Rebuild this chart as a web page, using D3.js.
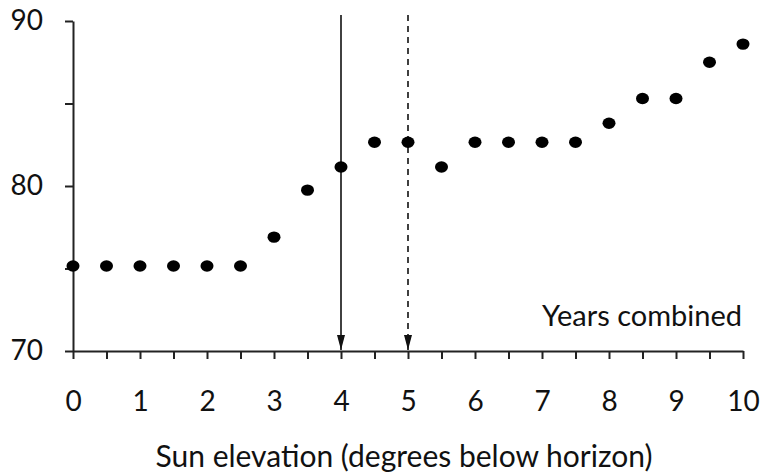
<!DOCTYPE html>
<html>
<head>
<meta charset="utf-8">
<script src="https://cdn.jsdelivr.net/npm/d3@7"></script>
<style>
  body { margin: 0; background: #fff; }
  text { font-family: Lato, "Open Sans", sans-serif; fill: #111; }
</style>
</head>
<body>
<div id="chart"></div>
<script>
// data
var elevation = [0, 0.5, 1, 1.5, 2, 2.5, 3, 3.5, 4, 4.5, 5, 5.5, 6, 6.5, 7, 7.5, 8, 8.5, 9, 9.5, 10];
var percent   = [75.15, 75.15, 75.15, 75.15, 75.15, 75.15, 76.9, 79.75, 81.15, 82.65, 82.65, 81.15,
                 82.65, 82.65, 82.65, 82.65, 83.8, 85.3, 85.3, 87.5, 88.6];
var xTicks = [0, 1, 2, 3, 4, 5, 6, 7, 8, 9, 10];
var xMinorTicks = d3.range(0, 10.01, 0.5);
var yTicks = [70, 75, 80, 85, 90];
var yLabels = [70, 80, 90];
var markers = [{ x: 4, dashed: false }, { x: 5, dashed: true }];

var W = 762, H = 473;
var margin = { top: 21, right: 19, bottom: 122, left: 73 },
    width = W - margin.left - margin.right,
    height = H - margin.top - margin.bottom;

var x = d3.scaleLinear().domain([0, 10]).range([0, width]);
var y = d3.scaleLinear().domain([70, 90]).range([height, 0]);

var svg = d3.select("#chart").append("svg")
    .attr("width", W)
    .attr("height", H)
  .append("g")
    .attr("transform", "translate(" + margin.left + "," + margin.top + ")");

// arrowhead, drawn along +x so orient=auto points it down the line
svg.append("defs").append("marker")
    .attr("id", "arrow")
    .attr("viewBox", "0 0 15 8")
    .attr("refX", 15).attr("refY", 4)
    .attr("markerWidth", 15).attr("markerHeight", 8)
    .attr("markerUnits", "userSpaceOnUse")
    .attr("orient", "auto")
  .append("path")
    .attr("d", "M0,0L15,4L0,8Z")
    .attr("fill", "#111");

// X axis
var xAxis = svg.append("g")
    .attr("transform", "translate(0," + height + ")")
    .call(d3.axisBottom(x).tickValues(xMinorTicks).tickSize(8).tickSizeOuter(0)
      .tickFormat(function(d) { return xTicks.indexOf(d) >= 0 ? d : ""; }));
xAxis.select(".domain").attr("stroke", "#222").attr("stroke-width", 2);
xAxis.selectAll(".tick line").attr("stroke", "#222").attr("stroke-width", 2);
xAxis.selectAll(".tick text")
    .attr("y", 60)
    .attr("dy", null)
    .style("font-size", "28px")
    .style("font-family", "Lato, sans-serif")
    .attr("fill", "#111");

// Y axis
var yAxis = svg.append("g")
    .call(d3.axisLeft(y).tickValues(yTicks).tickSize(8).tickSizeOuter(0)
      .tickFormat(function(d) { return yLabels.indexOf(d) >= 0 ? d : ""; }));
yAxis.select(".domain").attr("stroke", "#222").attr("stroke-width", 2);
yAxis.selectAll(".tick line").attr("stroke", "#222").attr("stroke-width", 2);
yAxis.selectAll(".tick text")
    .attr("x", -30)
    .style("font-size", "28px")
    .style("font-family", "Lato, sans-serif")
    .attr("fill", "#111");

// vertical marker lines with arrows
svg.selectAll(".marker-line")
    .data(markers)
  .enter().append("line")
    .attr("class", "marker-line")
    .attr("x1", function(d) { return x(d.x); })
    .attr("x2", function(d) { return x(d.x); })
    .attr("y1", -6)
    .attr("y2", height - 1)
    .attr("stroke", "#111")
    .attr("stroke-width", 1.6)
    .attr("stroke-dasharray", function(d) { return d.dashed ? "6,5" : null; })
    .attr("marker-end", "url(#arrow)");

// points
svg.selectAll(".dot")
    .data(elevation)
  .enter().append("ellipse")
    .attr("class", "dot")
    .attr("cx", function(d) { return x(d); })
    .attr("cy", function(d, i) { return y(percent[i]); })
    .attr("rx", 6.5)
    .attr("ry", 5.7)
    .attr("fill", "#000");

// annotation
svg.append("text")
    .attr("x", width - 1)
    .attr("y", 305)
    .attr("text-anchor", "end")
    .style("font-size", "29px")
    .text("Years combined");

// x axis title
svg.append("text")
    .attr("x", width / 2 - 4)
    .attr("y", height + 116)
    .attr("text-anchor", "middle")
    .style("font-size", "30px")
    .text("Sun elevation (degrees below horizon)");
</script>
</body>
</html>
